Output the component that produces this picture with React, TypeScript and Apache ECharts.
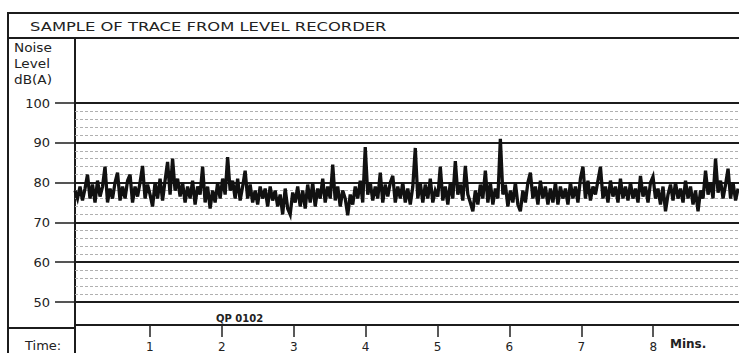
import React, { useEffect, useRef } from "react";
import * as echarts from "echarts";

const TITLE = "SAMPLE OF TRACE FROM LEVEL RECORDER";
const Y_AXIS_TITLE = ["Noise", "Level", "dB(A)"];
const X_TITLE = "Time:";
const X_UNIT = "Mins.";
const CHART_CODE = "QP 0102";
const X_TICKS = [1, 2, 3, 4, 5, 6, 7, 8];
const Y_MIN = 50;
const Y_MAX = 100;
const Y_STEP = 10;

// Trace sampled at a fixed rate (minutes); values in dB(A) read from the recorder strip
const TRACE_START_MIN = -0.042;
const TRACE_STEP_MIN = 0.0348;
const TRACE_DB = [
  78, 76, 79, 75.5, 78.5, 82, 76, 79.5, 75, 80.5,
  76.5, 79, 84, 75, 78.5, 76, 80, 82.5, 75.5, 79,
  76, 80.5, 82, 75, 79, 76.5, 80, 84.2, 76, 79.5,
  77, 74, 80, 76, 81, 75.5, 80.5, 85.2, 77, 86,
  78, 81, 76.5, 80, 75, 79, 76, 80.5, 74.5, 79,
  77, 84, 75, 79, 73.5, 78, 75, 80, 76, 81,
  77, 86.4, 78, 80.5, 76, 81, 75.5, 79, 83, 76,
  79.5, 75, 78, 74.5, 79, 76, 78.5, 74, 79, 75.5,
  78, 74, 77, 72, 78.5, 73.5, 72, 77.5, 75, 79,
  74, 78, 73.5, 79.5, 75, 80, 74, 78.5, 76, 81,
  75, 79, 76, 84.5, 75.5, 79, 74, 78, 76, 71.8,
  77, 74.5, 79, 76, 80.5, 75, 88.9, 77, 80, 75.5,
  79, 76, 82.5, 75, 79.5, 76.5, 80, 81.7, 75, 79,
  76, 80, 75, 78.5, 74.5, 79, 88.7, 76, 80, 75,
  79.5, 76, 81, 75, 78, 76.5, 84, 75.5, 79, 74.5,
  80, 76, 85.4, 77, 79.5, 75.5, 84.2, 77, 75, 72.8,
  78, 74.5, 79.5, 76, 83, 75, 80, 74.5, 78.5, 76,
  91, 77, 79.5, 74, 78, 75, 80, 74.5, 72.8, 78,
  75, 80, 82.5, 76, 79, 74.5, 80.5, 76, 79, 74.5,
  78.5, 75, 80, 74.5, 79, 76, 78.5, 74.5, 80, 76,
  79, 75, 81, 84, 76, 80.5, 75.5, 79, 77, 80.5,
  84, 76, 79, 75, 80.5, 76.5, 79, 75, 81, 76,
  79, 75.5, 80, 76, 78.5, 75, 81.7, 76.5, 79, 75,
  80, 81.5, 76, 78.5, 74.5, 79, 72.8, 77, 79.5, 75.5,
  80, 76, 78.5, 75, 80.5, 76, 79, 74.5, 78, 72.8,
  78, 76, 83, 77, 80, 76, 86, 77.5, 80.5, 76,
  79.5, 83.5, 76, 80, 75.5, 78.5,
];

const FONT = "DejaVu Sans";
const INK = "#1c1c1c";
const TEXT = "#222222";

export default function App() {
  const ref = useRef<HTMLDivElement>(null);

  useEffect(() => {
    if (!ref.current) return;
    const chart = echarts.init(ref.current, null, { renderer: "svg" });
    const traceData = TRACE_DB.map((v, i) => [TRACE_START_MIN + i * TRACE_STEP_MIN, v]);

    const frameLine = (x1: number, y1: number, x2: number, y2: number) => ({
      type: "line",
      shape: { x1, y1, x2, y2 },
      style: { stroke: INK, lineWidth: 2 },
      silent: true,
    });

    chart.setOption({
      animation: false,
      backgroundColor: "#ffffff",
      grid: { left: 75, right: 0, top: 103, bottom: 48, containLabel: false },
      xAxis: {
        type: "value",
        min: -0.042,
        max: 9.193,
        offset: 23,
        axisLine: { show: true, lineStyle: { color: INK, width: 2 } },
        axisTick: {
          show: true,
          customValues: X_TICKS,
          length: 12,
          lineStyle: { color: "#222", width: 1.5 },
        },
        axisLabel: {
          customValues: X_TICKS,
          margin: 16,
          fontSize: 12,
          fontFamily: FONT,
          color: TEXT,
        },
        splitLine: { show: false },
      },
      yAxis: {
        type: "value",
        min: Y_MIN,
        max: Y_MAX,
        interval: Y_STEP,
        axisLine: { show: false },
        axisTick: { show: true, length: 23, lineStyle: { color: INK, width: 1.5 } },
        axisLabel: { margin: 25, fontSize: 13, fontFamily: FONT, color: TEXT },
        splitLine: { show: true, lineStyle: { color: INK, width: 2 } },
        minorTick: { show: false, splitNumber: 5 },
        minorSplitLine: { show: true, lineStyle: { color: "#b0b0b0", width: 1, type: [3, 2] } },
      },
      series: [
        {
          type: "line",
          data: traceData,
          showSymbol: false,
          symbol: "none",
          lineStyle: { color: "#111", width: 3.3, join: "miter" },
          z: 5,
        },
      ],
      graphic: [
        frameLine(8, 13, 739, 13),
        frameLine(8, 38, 739, 38),
        frameLine(8, 12, 8, 353),
        frameLine(75, 38, 75, 353),
        frameLine(8, 328, 75, 328),
        {
          type: "text",
          x: 30,
          y: 26,
          scaleX: 1.26,
          style: {
            text: TITLE,
            font: `13px "${FONT}"`,
            fill: TEXT,
            verticalAlign: "middle",
            align: "left",
          },
        },
        ...Y_AXIS_TITLE.map((t, i) => ({
          type: "text",
          x: 14,
          y: 48 + i * 16,
          scaleX: 1.05,
          style: { text: t, font: `13px "${FONT}"`, fill: TEXT, verticalAlign: "middle", align: "left" },
        })),
        {
          type: "text",
          x: 25,
          y: 345,
          style: { text: X_TITLE, font: `13px "${FONT}"`, fill: TEXT, verticalAlign: "middle", align: "left" },
        },
        {
          type: "text",
          x: 670,
          y: 344,
          style: { text: X_UNIT, font: `bold 12px "${FONT}"`, fill: TEXT, verticalAlign: "middle", align: "left" },
        },
        {
          type: "text",
          x: 216,
          y: 318,
          style: { text: CHART_CODE, font: `bold 10px "${FONT}"`, fill: TEXT, verticalAlign: "middle", align: "left" },
        },
      ],
    });

    return () => chart.dispose();
  }, []);

  return (
    <div
      ref={ref}
      style={{ position: "fixed", left: 0, top: 0, width: 739, height: 353, background: "#fff" }}
    />
  );
}
